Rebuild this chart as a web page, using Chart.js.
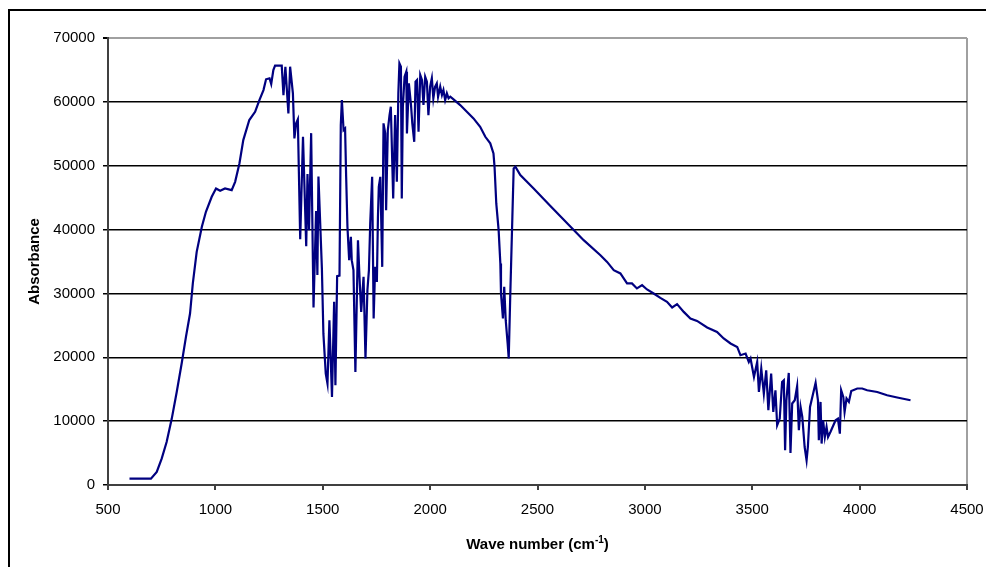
<!DOCTYPE html>
<html>
<head>
<meta charset="utf-8">
<script src="https://cdn.jsdelivr.net/npm/chart.js@4"></script>
<style>
  html, body { margin: 0; padding: 0; background: #fff; }
  canvas { display: block; }
</style>
</head>
<body>
<canvas id="spectrum" width="986" height="567"></canvas>
<script>
// values
var waveNumbers = [600,650,700,727,750,773,797,820,843,863,882,895,913,937,956,983,1003,1022,1045,1076,
  1092,1112,1130,1158,1185,1205,1224,1236,1252,1260,1270,1278,1309,1317,1326,1340,1348,1361,1368,1376,
  1384,1395,1408,1423,1429,1436,1446,1457,1469,1475,1480,1496,1503,1514,1522,1531,1543,1553,1559,1567,
  1578,1584,1589,1597,1604,1609,1615,1623,1631,1635,1643,1652,1664,1671,1679,1690,1699,1708,1715,1721,
  1730,1737,1744,1752,1757,1761,1768,1777,1783,1791,1795,1803,1811,1817,1828,1837,1845,1852,1857,1864,
  1868,1873,1881,1889,1892,1901,1911,1917,1926,1932,1939,1946,1954,1962,1969,1977,1985,1992,2000,2008,
  2015,2023,2031,2037,2047,2055,2062,2070,2078,2086,2094,2109,2140,2171,2202,2233,2257,2280,2295,2300,
  2308,2319,2327,2330,2339,2345,2352,2361,2366,2373,2383,2389,2397,2420,2482,2560,2715,2793,2824,2855,
  2886,2917,2940,2963,2987,3010,3041,3072,3103,3127,3150,3181,3212,3243,3290,3336,3367,3399,3430,3445,
  3469,3484,3492,3508,3523,3531,3542,3554,3565,3575,3588,3598,3608,3616,3628,3639,3647,3653,3659,3670,
  3678,3686,3698,3709,3717,3725,3733,3744,3753,3759,3769,3787,3795,3806,3810,3818,3823,3830,3838,3846,
  3853,3864,3888,3899,3908,3914,3924,3930,3939,3950,3961,3989,4012,4035,4082,4128,4175,4237];

var absorbance = [1000,1000,1000,2040,4130,6740,10400,14570,19020,23200,26860,31560,36510,40430,42780,45130,46440,46070,46440,46180,
  47480,50360,54010,57150,58450,60280,61850,63530,63690,62790,64980,65660,65660,61060,65500,58200,65500,61330,54280,56630,
  57260,38500,54530,37400,48700,39900,55100,27800,42900,32900,48300,33900,23700,17450,15890,25810,13790,28680,15620,32700,
  32800,56370,60280,55580,55840,48260,40430,35210,38860,35210,33640,17710,38340,32590,27110,32590,19810,30510,33640,40960,
  48260,26070,34160,31810,42000,46700,48260,34160,56630,55060,43040,55580,57930,59230,44880,57930,47480,61330,66030,65500,
  44880,59230,63930,64720,55060,62900,59500,56630,53750,63150,63420,55320,64200,63420,59500,63930,63150,57930,62370,63690,
  60550,62370,62900,60800,62370,61060,61850,60280,61330,60550,60800,60390,59500,58450,57410,56100,54530,53500,51930,49830,
  44090,39910,34690,29990,26070,31030,25810,22160,19810,29460,42000,49580,49830,48530,46440,43700,38340,35990,34940,33640,
  33130,31560,31560,30780,31290,30620,29990,29300,28680,27800,28320,27110,26070,25700,24660,23980,22940,22160,21620,20320,
  20590,19270,19810,16920,19270,14570,18240,14320,17970,11710,17460,11440,14840,9350,10400,16140,16400,5440,13270,17550,
  5020,12760,13270,15470,8570,12220,10660,5950,3870,5950,12220,14840,15990,13270,7000,13010,6490,10140,7520,9090,
  7520,8310,10140,10400,8050,14840,13790,11440,13540,13010,14730,15110,15110,14840,14570,14060,13700,13270];

var xTicks = [500, 4500, 500];      // min, max, step
var yTicks = [0, 70000, 10000];

var points = waveNumbers.map(function (w, i) { return { x: w, y: absorbance[i] }; });

var frameAndTitles = {
  id: 'frameAndTitles',
  beforeDraw: function (chart) {
    var ctx = chart.ctx;
    ctx.save();
    ctx.fillStyle = '#fff';
    ctx.fillRect(0, 0, chart.width, chart.height);
    ctx.strokeStyle = '#000';
    ctx.lineWidth = 2;
    ctx.beginPath();
    ctx.moveTo(9, chart.height);
    ctx.lineTo(9, 10);
    ctx.lineTo(chart.width, 10);
    ctx.stroke();
    ctx.restore();
  },
  afterDraw: function (chart) {
    var ctx = chart.ctx;
    var area = chart.chartArea;
    ctx.save();
    ctx.fillStyle = '#000';

    // y title
    ctx.font = 'bold 15px "Liberation Sans", Arial, sans-serif';
    ctx.textAlign = 'center';
    ctx.textBaseline = 'middle';
    ctx.translate(35, (area.top + area.bottom) / 2);
    ctx.rotate(-Math.PI / 2);
    ctx.fillText('Absorbance', 0, 0);
    ctx.setTransform(1, 0, 0, 1, 0, 0);

    // x title with superscript
    var big = 'bold 15px "Liberation Sans", Arial, sans-serif';
    var small = 'bold 10px "Liberation Sans", Arial, sans-serif';
    var a = 'Wave number (cm', b = '-1', c = ')';
    ctx.textAlign = 'left';
    ctx.textBaseline = 'alphabetic';
    ctx.font = big;
    var wa = ctx.measureText(a).width, wc = ctx.measureText(c).width;
    ctx.font = small;
    var wb = ctx.measureText(b).width;
    var x0 = (area.left + area.right) / 2 - (wa + wb + wc) / 2;
    var base = 549;
    ctx.font = big;
    ctx.fillText(a, x0, base);
    ctx.font = small;
    ctx.fillText(b, x0 + wa, base - 6);
    ctx.font = big;
    ctx.fillText(c, x0 + wa + wb, base);
    ctx.restore();
  }
};

new Chart('spectrum', {
  type: 'line',
  data: {
    datasets: [{
      data: points,
      borderColor: '#000080',
      borderWidth: 2.2,
      pointRadius: 0,
      tension: 0,
      fill: false
    }]
  },
  options: {
    responsive: false,
    animation: false,
    devicePixelRatio: 1,
    layout: { padding: { top: 38, right: 19, left: 0, bottom: 0 } },
    plugins: { legend: { display: false }, tooltip: { enabled: false } },
    scales: {
      x: {
        type: 'linear',
        min: xTicks[0], max: xTicks[1],
        afterFit: function (s) { s.height = 82; s.paddingLeft = 0; s.paddingRight = 0; },
        border: { color: '#404040', width: 2 },
        grid: {
          color: function (c) { return c.tick && c.tick.value === 4500 ? '#a0a0a0' : 'rgba(0,0,0,0)'; },
          tickColor: '#404040',
          tickLength: 5,
          lineWidth: 2
        },
        ticks: {
          stepSize: xTicks[2],
          color: '#000',
          padding: 11,
          maxRotation: 0,
          font: { family: '"Liberation Sans", Arial, sans-serif', size: 15 },
          callback: function (v) { return v; }
        }
      },
      y: {
        min: yTicks[0], max: yTicks[1],
        afterFit: function (s) { s.width = 108; s.paddingTop = 0; s.paddingBottom = 0; },
        border: { color: '#404040', width: 2 },
        grid: {
          color: function (c) { return c.tick && c.tick.value === 70000 ? '#a0a0a0' : '#000'; },
          tickColor: '#000',
          tickLength: 5,
          lineWidth: function (c) { return c.tick && c.tick.value === 70000 ? 2 : 1.5; }
        },
        ticks: {
          stepSize: yTicks[2],
          color: '#000',
          padding: 8,
          font: { family: '"Liberation Sans", Arial, sans-serif', size: 15 },
          callback: function (v) { return v; }
        }
      }
    }
  },
  plugins: [frameAndTitles]
});
</script>
</body>
</html>
